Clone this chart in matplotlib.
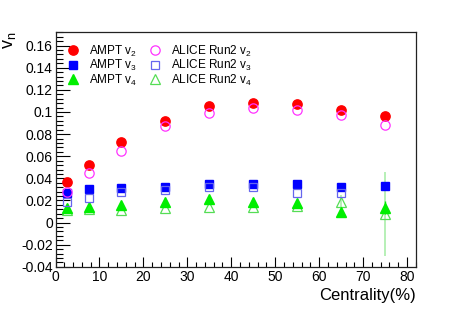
import matplotlib
matplotlib.use("Agg")
import matplotlib.pyplot as plt
from matplotlib.ticker import MultipleLocator, FuncFormatter
from matplotlib.lines import Line2D

plt.rcParams['font.family'] = ['Liberation Sans', 'DejaVu Sans']

cent = [2.5, 7.5, 15, 25, 35, 45, 55, 65, 75]
ampt_v2 = [0.037, 0.052, 0.073, 0.092, 0.105, 0.108, 0.107, 0.102, 0.096]
ampt_v3 = [0.027, 0.030, 0.031, 0.032, 0.035, 0.035, 0.035, 0.032, 0.033]
ampt_v4 = [0.013, 0.0145, 0.0155, 0.0185, 0.0215, 0.0185, 0.0176, 0.0095, 0.0136]
ampt_v4_err = [0, 0, 0, 0, 0, 0, 0, 0.004, 0.006]

alice_cent = [2.5, 7.5, 15, 25, 35, 45, 55, 65, 75]
alice_v2 = [0.028, 0.045, 0.0645, 0.087, 0.099, 0.104, 0.102, 0.097, 0.088]
alice_v3_cent = [2.5, 7.5, 15, 25, 35, 45, 55, 65]
alice_v3 = [0.019, 0.0227, 0.0276, 0.0297, 0.032, 0.032, 0.0267, 0.027]
alice_v4 = [0.0115, 0.012, 0.0115, 0.013, 0.0145, 0.014, 0.015, 0.019, 0.0076]
alice_v4_err = [0, 0, 0, 0, 0, 0, 0, 0.006, 0.038]

fig = plt.figure(figsize=(4.63, 3.14), dpi=100)
ax = fig.add_axes([0.120, 0.150, 0.779, 0.749])

red = '#ff0000'
blue = '#0000ff'
green = '#00ee00'
mag = '#ff33ff'
lblue = '#6666ee'
lgreen = '#55dd55'
errc = '#aaeeaa'

# AMPT
ax.plot(cent, ampt_v2, 'o', color=red, ms=6.7, mec=red, zorder=3)
ax.plot(cent, ampt_v3, 's', color=blue, ms=6.3, mec=blue, zorder=3)
ax.errorbar(cent, ampt_v4, yerr=ampt_v4_err, fmt='^', color=green, ms=7,
            mec=green, ecolor=green, elinewidth=1, capsize=0, zorder=3)
# ALICE
ax.plot(alice_cent, alice_v2, 'o', mfc='none', mec=mag, ms=6.7, mew=0.9, zorder=4)
ax.plot(alice_v3_cent, alice_v3, 's', mfc='none', mec=lblue, ms=6.3, mew=0.9, zorder=4)
ax.errorbar(alice_cent, alice_v4, yerr=alice_v4_err, fmt='^', mfc='none', mec=lgreen,
            ms=7, mew=0.9, ecolor=errc, elinewidth=1.2, capsize=0, zorder=2)

ax.set_xlim(0, 82.1)
ax.set_ylim(-0.04, 0.1725)

ax.xaxis.set_major_locator(MultipleLocator(10))
ax.xaxis.set_minor_locator(MultipleLocator(2))
ax.yaxis.set_major_locator(MultipleLocator(0.02))
ax.yaxis.set_minor_locator(MultipleLocator(0.004))

def yfmt(v, p):
    s = ('%.2f' % v).rstrip('0').rstrip('.')
    if s in ('-0', '0.'):
        s = '0'
    return s
ax.yaxis.set_major_formatter(FuncFormatter(yfmt))

ax.tick_params(which='both', direction='in', top=False, right=False, labelsize=10, pad=2)
ax.tick_params(axis='y', which='major', length=10, width=0.8)
ax.tick_params(axis='y', which='minor', length=5, width=0.8)
ax.tick_params(axis='x', which='major', length=7, width=0.8)
ax.tick_params(axis='x', which='minor', length=3.5, width=0.8)
for s in ax.spines.values():
    s.set_linewidth(0.9)
    s.set_color('#222222')

ax.set_xlabel('Centrality(%)', fontsize=12, loc='right', labelpad=3)
ax.set_ylabel('v$_\\mathregular{n}$', fontsize=13, loc='top', labelpad=2)

handles = [
    Line2D([], [], ls='none', marker='o', color=red, ms=6.7),
    Line2D([], [], ls='none', marker='s', color=blue, ms=6.3),
    Line2D([], [], ls='none', marker='^', color=green, ms=7),
    Line2D([], [], ls='none', marker='o', mfc='none', mec=mag, ms=6.7, mew=0.9),
    Line2D([], [], ls='none', marker='s', mfc='none', mec=lblue, ms=6.3, mew=0.9),
    Line2D([], [], ls='none', marker='^', mfc='none', mec=lgreen, ms=7, mew=0.9),
]
labels = ['AMPT v$_\\mathregular{2}$', 'AMPT v$_\\mathregular{3}$', 'AMPT v$_\\mathregular{4}$',
          'ALICE Run2 v$_\\mathregular{2}$', 'ALICE Run2 v$_\\mathregular{3}$', 'ALICE Run2 v$_\\mathregular{4}$']
ax.legend(handles, labels, ncol=2, loc='upper left', bbox_to_anchor=(0.0, 0.985),
          frameon=False, fontsize=8.5, handletextpad=0.6, columnspacing=0.8,
          labelspacing=-0.05, handlelength=1.5, borderaxespad=0.3)

fig.savefig('out.png', dpi=100)
